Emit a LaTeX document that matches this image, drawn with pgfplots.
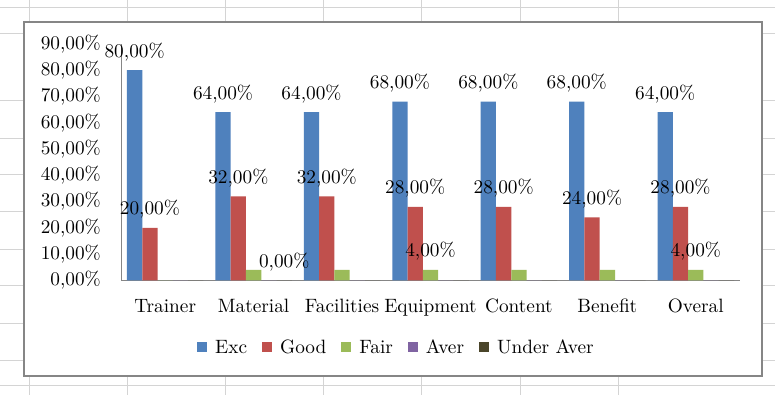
\documentclass[border=0pt]{standalone}
\usepackage{fontspec}
\setmainfont{lmroman10-regular}[Extension=.otf]
\usepackage{pgfplots}
\pgfplotsset{compat=1.18}
\definecolor{cexc}{HTML}{4F81BD}
\definecolor{cgood}{HTML}{C0504D}
\definecolor{cfair}{HTML}{9BBB59}
\definecolor{caver}{HTML}{8064A2}
\definecolor{cunder}{HTML}{4A452A}
\definecolor{axgray}{HTML}{868686}
\definecolor{gridgray}{HTML}{D4D4D4}
\newcommand{\cf}{\fontsize{19.3}{23}\selectfont}
\pgfplotsset{sqleg/.style={legend image code/.code={\fill[##1] (0pt,-5pt) rectangle (10pt,5pt);}}}
\begin{document}
\begin{tikzpicture}[x=1pt,y=1pt]
\useasboundingbox (0,0) rectangle (775,395);
\fill[white] (0,0) rectangle (775,395);
\foreach \gx in {29.5,127.6,225.7,323.8,421.9,520,618.1}
  \draw[gridgray,line width=1pt] (\gx,0) -- (\gx,395);
\foreach \gy in {387.7,361.7,294,256.7,220,183,145.7,109,71.7,34.7,9.5}
  \draw[gridgray,line width=1pt] (0,\gy) -- (775,\gy);
\draw[axgray, line width=2pt, fill=white] (23.7,18.5) rectangle (762,373.3);
\begin{axis}[
  at={(121pt,114.5pt)}, anchor=south west,
  scale only axis, width=619pt, height=236.8pt,
  xmin=-0.5, xmax=6.5, ymin=0, ymax=90,
  clip=false,
  axis lines*=left,
  axis line style={axgray, line width=1pt},
  ybar, bar width=0.173,
  xtick={0,...,6},
  xticklabels={Trainer,Material,Facilities,Equipment,Content,Benefit,Overal},
  ytick={0,10,...,90},
  yticklabels={{0,00\%},{10,00\%},{20,00\%},{30,00\%},{40,00\%},{50,00\%},{60,00\%},{70,00\%},{80,00\%},{90,00\%}},
  major tick length=0pt,
  tick label style={font=\cf, text=black},
  yticklabel style={anchor=east, inner sep=0pt, xshift=-20pt},
  xticklabel style={anchor=base, inner sep=0pt, yshift=-32.5pt},
  point meta=explicit symbolic,
  every node near coord/.append style={font=\cf, text=black, anchor=base, inner sep=0pt, yshift=13pt},
  legend style={draw=none, fill=none, font=\cf, legend columns=5,
    at={(0.1228,-0.282)}, anchor=west, inner sep=0pt,
    /tikz/every odd column/.append style={column sep=6pt},
    /tikz/every even column/.append style={column sep=13pt}},
]
\addplot[ybar, fill=cexc, draw=none, bar shift=-0.346, sqleg, nodes near coords]
  coordinates {(0,80) [{80,00\%}] (1,64) [{64,00\%}] (2,64) [{64,00\%}] (3,68) [{68,00\%}] (4,68) [{68,00\%}] (5,68) [{68,00\%}] (6,64) [{64,00\%}]};
\addplot[ybar, fill=cgood, draw=none, bar shift=-0.173, sqleg, nodes near coords]
  coordinates {(0,20) [{20,00\%}] (1,32) [{32,00\%}] (2,32) [{32,00\%}] (3,28) [{28,00\%}] (4,28) [{28,00\%}] (5,24) [{24,00\%}] (6,28) [{28,00\%}]};
\addplot[ybar, fill=cfair, draw=none, bar shift=0, sqleg, nodes near coords]
  coordinates {(0,0) [] (1,4) [] (2,4) [] (3,4) [{4,00\%}] (4,4) [] (5,4) [] (6,4) [{4,00\%}]};
\addplot[ybar, fill=caver, draw=none, bar shift=0.173, sqleg]
  coordinates {(0,0) [] (1,0) [] (2,0) [] (3,0) [] (4,0) [] (5,0) [] (6,0) []};
\addplot[ybar, fill=cunder, draw=none, bar shift=0.346, sqleg, nodes near coords]
  coordinates {(0,0) [] (1,0) [{0,00\%}] (2,0) [] (3,0) [] (4,0) [] (5,0) [] (6,0) []};
\legend{Exc,Good,Fair,Aver,Under Aver}
\end{axis}
\end{tikzpicture}
\end{document}
